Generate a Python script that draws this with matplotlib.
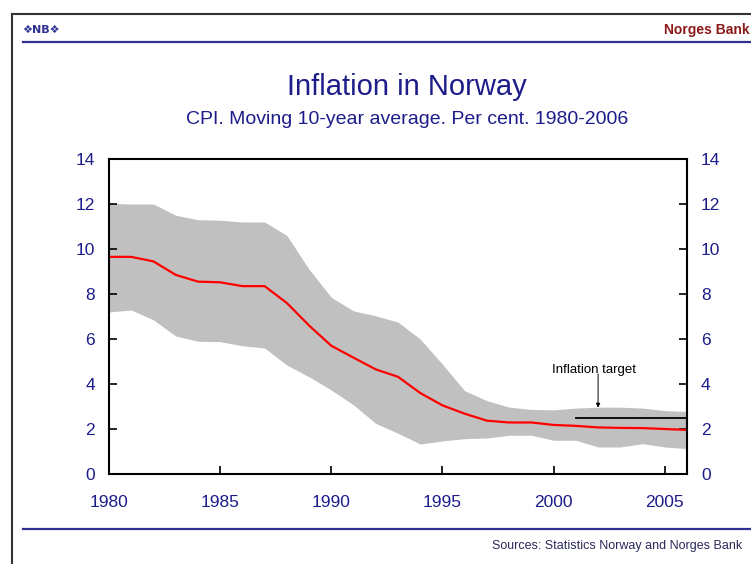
import matplotlib.pyplot as plt
from matplotlib.lines import Line2D

plt.rcParams['font.family'] = ['Liberation Sans', 'DejaVu Sans']

years = list(range(1980, 2007))
cpi_avg = [9.65, 9.65, 9.45, 8.85, 8.55, 8.52, 8.35, 8.35, 7.6, 6.6, 5.7, 5.17, 4.65,
           4.32, 3.6, 3.05, 2.68, 2.37, 2.29, 2.29, 2.18, 2.14, 2.07, 2.05, 2.04, 2.0, 1.96]
band_high = [12.03, 12.0, 12.0, 11.5, 11.3, 11.28, 11.2, 11.2, 10.6, 9.1, 7.85, 7.25, 7.03,
             6.75, 6.0, 4.88, 3.7, 3.26, 2.97, 2.87, 2.85, 2.93, 2.97, 2.97, 2.93, 2.82, 2.78]
band_low = [7.2, 7.29, 6.85, 6.13, 5.9, 5.88, 5.7, 5.6, 4.84, 4.32, 3.73, 3.07, 2.25,
            1.81, 1.33, 1.47, 1.57, 1.6, 1.72, 1.72, 1.5, 1.5, 1.2, 1.2, 1.35, 1.2, 1.13]
target_years = [2001, 2006]
target_value = [2.5, 2.5]
yticks = [0, 2, 4, 6, 8, 10, 12, 14]
xticks = [1980, 1985, 1990, 1995, 2000, 2005]

navy = '#1c1c8a'
W, H = 751, 564

fig = plt.figure(figsize=(7.51, 5.64), dpi=100)

# frame and header lines (pixel coords converted to figure fraction)
def fx(x):
    return x / W

def fy(y):
    return 1 - y / H

fig.add_artist(Line2D([fx(12), fx(12)], [fy(14), 0], color='#333333', lw=1.5))
fig.add_artist(Line2D([fx(12), 1], [fy(14), fy(14)], color='#333333', lw=1.5))
fig.add_artist(Line2D([fx(23), 1], [fy(42), fy(42)], color='#2e3192', lw=1.6))
fig.add_artist(Line2D([fx(23), 1], [fy(529), fy(529)], color='#2e3192', lw=1.6))

fig.text(fx(22), fy(30), '\u2756NB\u2756', color='#2e3192', fontsize=8, fontweight='bold',
         ha='left', va='center', family=['DejaVu Sans'])
fig.text(fx(664), fy(30), 'Norges Bank', color='#8b1a1a', fontsize=10, fontweight='bold',
         ha='left', va='center')
fig.text(fx(407), fy(87), 'Inflation in Norway', color=navy, fontsize=21,
         ha='center', va='center')
fig.text(fx(407), fy(119), 'CPI. Moving 10-year average. Per cent. 1980-2006', color=navy,
         fontsize=14, ha='center', va='center')
fig.text(fx(742), fy(546), 'Sources: Statistics Norway and Norges Bank', color='#2a2a5a',
         fontsize=9, ha='right', va='center')

ax = fig.add_axes([109 / W, 90 / H, 578 / W, 315 / H])
ax.fill_between(years, band_low, band_high, color='#c0c0c0', lw=0)
ax.plot(years, cpi_avg, color='#ff0000', lw=1.6)
ax.plot(target_years, target_value, color='black', lw=1.3)

ax.text(2001.8, 4.6, 'Inflation target', ha='center', va='center', fontsize=9.5, color='black')
ax.annotate('', xy=(2002, 2.95), xytext=(2002, 4.45),
            arrowprops=dict(arrowstyle='-|>', color='black', lw=0.7, mutation_scale=6,
                            shrinkA=0, shrinkB=0))

ax.set_xlim(1980, 2006)
ax.set_ylim(0, 14)
ax.set_xticks(xticks)
ax.set_yticks(yticks)
ax.tick_params(axis='both', direction='in', length=6, width=1.2, colors='black',
               labelcolor=navy, labelsize=12.5)
ax.tick_params(axis='y', right=True, labelright=True, pad=10)
ax.tick_params(axis='x', pad=15)
for s in ax.spines.values():
    s.set_linewidth(1.5)

fig.savefig('out.png', dpi=100)
